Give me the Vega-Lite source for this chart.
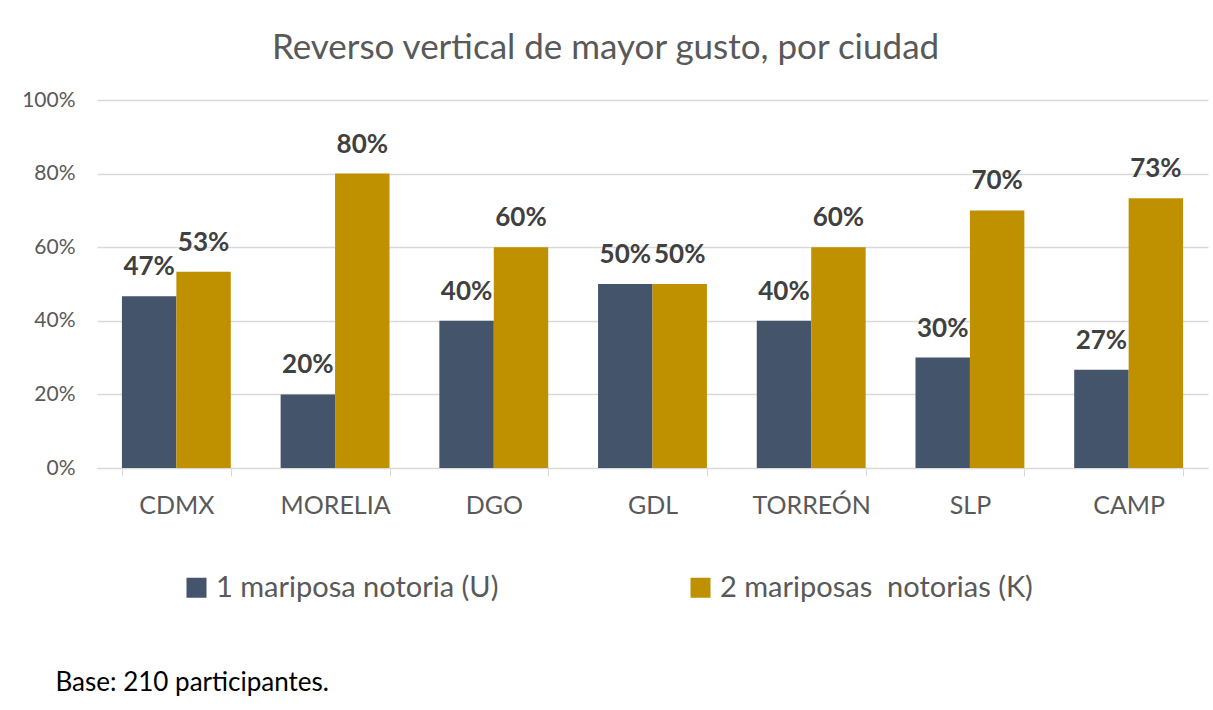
{
  "$schema": "https://vega.github.io/schema/vega-lite/v6.json",
  "width": 1111,
  "height": 368,
  "autosize": "none",
  "padding": {"left": 97, "top": 100, "right": 5, "bottom": 242},
  "background": "white",
  "title": {
    "text": "Reverso vertical de mayor gusto, por ciudad",
    "font": "Lato",
    "fontSize": 35,
    "fontWeight": "normal",
    "color": "#595959",
    "anchor": "middle",
    "frame": "group",
    "dx": -47,
    "offset": 23
  },
  "data": {
    "values": [
      {"ciudad": "CDMX", "serie": "1 mariposa notoria (U)", "valor": 0.467},
      {"ciudad": "CDMX", "serie": "2 mariposas\u00a0 notorias (K)", "valor": 0.533},
      {"ciudad": "MORELIA", "serie": "1 mariposa notoria (U)", "valor": 0.20},
      {"ciudad": "MORELIA", "serie": "2 mariposas\u00a0 notorias (K)", "valor": 0.80},
      {"ciudad": "DGO", "serie": "1 mariposa notoria (U)", "valor": 0.40},
      {"ciudad": "DGO", "serie": "2 mariposas\u00a0 notorias (K)", "valor": 0.60},
      {"ciudad": "GDL", "serie": "1 mariposa notoria (U)", "valor": 0.50},
      {"ciudad": "GDL", "serie": "2 mariposas\u00a0 notorias (K)", "valor": 0.50},
      {"ciudad": "TORREÓN", "serie": "1 mariposa notoria (U)", "valor": 0.40},
      {"ciudad": "TORREÓN", "serie": "2 mariposas\u00a0 notorias (K)", "valor": 0.60},
      {"ciudad": "SLP", "serie": "1 mariposa notoria (U)", "valor": 0.30},
      {"ciudad": "SLP", "serie": "2 mariposas\u00a0 notorias (K)", "valor": 0.70},
      {"ciudad": "CAMP", "serie": "1 mariposa notoria (U)", "valor": 0.267},
      {"ciudad": "CAMP", "serie": "2 mariposas\u00a0 notorias (K)", "valor": 0.733}
    ]
  },
  "encoding": {
    "x": {
      "field": "ciudad",
      "type": "nominal",
      "sort": ["CDMX", "MORELIA", "DGO", "GDL", "TORREÓN", "SLP", "CAMP"],
      "scale": {"paddingInner": 0.314, "paddingOuter": 0.157},
      "axis": {
        "title": "Base: 210 participantes.",
        "titleFont": "Lato",
        "titleFontSize": 26,
        "titleFontWeight": "normal",
        "titleColor": "#000000",
        "titleAnchor": "start",
        "titleAlign": "left",
        "titleBaseline": "middle",
        "titleX": -42,
        "titleY": 214,
        "labelAngle": 0,
        "labelFont": "Lato",
        "labelFontSize": 25,
        "labelColor": "#595959",
        "labelPadding": 17,
        "domainColor": "#d9d9d9",
        "domainWidth": 1,
        "tickColor": "#d9d9d9",
        "tickSize": 8,
        "tickBand": "extent",
        "grid": false
      }
    },
    "xOffset": {
      "field": "serie",
      "type": "nominal",
      "sort": ["1 mariposa notoria (U)", "2 mariposas\u00a0 notorias (K)"]
    },
    "y": {
      "field": "valor",
      "type": "quantitative",
      "scale": {"domain": [0, 1]},
      "axis": {
        "title": null,
        "format": ".0%",
        "values": [0, 0.2, 0.4, 0.6, 0.8, 1],
        "labelFont": "Lato",
        "labelFontSize": 21,
        "labelColor": "#595959",
        "labelPadding": 22,
        "domain": false,
        "ticks": false,
        "gridColor": "#d9d9d9",
        "gridWidth": 1.3
      }
    }
  },
  "layer": [
    {
      "mark": {"type": "bar"},
      "encoding": {
        "color": {
          "field": "serie",
          "type": "nominal",
          "sort": ["1 mariposa notoria (U)", "2 mariposas\u00a0 notorias (K)"],
          "scale": {"range": ["#44546A", "#BF9000"]},
          "legend": {
            "title": null,
            "orient": "none",
            "legendX": 85,
            "legendY": 473,
            "direction": "horizontal",
            "symbolType": "square",
            "symbolSize": 400,
            "labelFont": "Lato",
            "labelFontSize": 29,
            "labelColor": "#595959",
            "labelOffset": 5,
            "labelLimit": 0,
            "columnPadding": 187
          }
        }
      }
    },
    {
      "mark": {
        "type": "text",
        "font": "Lato",
        "fontWeight": "bold",
        "fontSize": 26,
        "color": "#404040",
        "baseline": "middle",
        "dy": -29
      },
      "encoding": {
        "text": {"field": "valor", "type": "quantitative", "format": ".0%"}
      }
    }
  ],
  "config": {"view": {"stroke": null}}
}
